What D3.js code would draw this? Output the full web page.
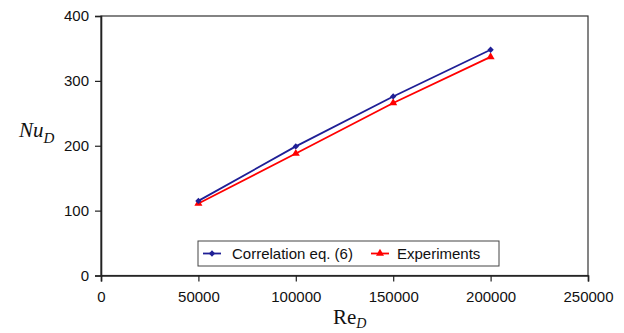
<!DOCTYPE html>
<html lang="en">
  <head>
    <meta charset="utf-8">
    <title>Nu vs Re</title>
    <style>
      body { margin: 0; background: #fff; }
      text { font-family: "Liberation Sans", Arial, sans-serif; }
    </style>
  </head>
  <body>
    <div id="chart"></div>
    <script src="https://cdn.jsdelivr.net/npm/d3@7/dist/d3.min.js"></script>
    <script type="text/javascript">
    (function(d3) {
      'use strict';

      var reynolds = [50000, 100000, 150000, 200000];
      var correlation = [115, 199, 276, 348];
      var experiments = [111, 188, 266, 337];
      var xTicks = [0, 50000, 100000, 150000, 200000, 250000];
      var yTicks = [0, 100, 200, 300, 400];
      var seriesNames = ['Correlation eq. (6)', 'Experiments'];

      var width = 624, height = 333;
      var left = 101, right = 588, top = 16, bottom = 275.5;

      var x = d3.scaleLinear().domain([0, 250000]).range([left, right]);
      var y = d3.scaleLinear().domain([0, 400]).range([bottom, top]);

      var svg = d3.select('#chart').append('svg')
        .attr('width', width)
        .attr('height', height);

      // plot area frame
      svg.append('rect')
        .attr('x', left).attr('y', top)
        .attr('width', right - left).attr('height', bottom - top)
        .attr('fill', 'none').attr('stroke', '#333').attr('stroke-width', 1.2);

      var xAxis = svg.append('g')
        .attr('transform', 'translate(0,' + bottom + ')')
        .call(d3.axisBottom(x).tickValues(xTicks).tickSize(6).tickPadding(10).tickFormat(d3.format('d')));
      var yAxis = svg.append('g')
        .attr('transform', 'translate(' + left + ',0)')
        .call(d3.axisLeft(y).tickValues(yTicks).tickSize(6).tickPadding(6));

      [xAxis, yAxis].forEach(function(a) {
        a.select('.domain').attr('stroke', '#222').attr('stroke-width', 1.6);
        a.selectAll('.tick line').attr('stroke', '#222').attr('stroke-width', 1.2);
        a.selectAll('.tick text')
          .attr('fill', '#111')
          .style('font-size', '15px')
          .style('font-family', '"Liberation Sans", Arial, sans-serif');
      });

      var blue = '#1f1f96', red = '#ff0000';

      var line = d3.line()
        .x(function(d) { return x(d[0]); })
        .y(function(d) { return y(d[1]); });

      var blueData = d3.zip(reynolds, correlation);
      var redData = d3.zip(reynolds, experiments);

      svg.append('path').datum(redData)
        .attr('d', line).attr('fill', 'none')
        .attr('stroke', red).attr('stroke-width', 1.8);
      svg.append('path').datum(blueData)
        .attr('d', line).attr('fill', 'none')
        .attr('stroke', blue).attr('stroke-width', 1.8);

      var diamond = d3.symbol().type(d3.symbolSquare).size(20);
      var triangle = d3.symbol().type(d3.symbolTriangle).size(28);

      svg.selectAll('.pt-red').data(redData).enter().append('path')
        .attr('class', 'pt-red')
        .attr('d', triangle)
        .attr('transform', function(d) { return 'translate(' + x(d[0]) + ',' + y(d[1]) + ')'; })
        .attr('fill', red);
      svg.selectAll('.pt-blue').data(blueData).enter().append('path')
        .attr('class', 'pt-blue')
        .attr('d', diamond)
        .attr('transform', function(d) { return 'translate(' + x(d[0]) + ',' + y(d[1]) + ') rotate(45)'; })
        .attr('fill', blue);

      // legend
      var legend = svg.append('g');
      legend.append('rect')
        .attr('x', 198).attr('y', 241).attr('width', 301).attr('height', 25)
        .attr('fill', '#fff').attr('stroke', '#444').attr('stroke-width', 1);

      var items = [
        { name: seriesNames[0], color: blue, sym: diamond, rot: ' rotate(45)', lx: 203, tx: 232 },
        { name: seriesNames[1], color: red, sym: triangle, rot: '', lx: 371, tx: 397 }
      ];
      items.forEach(function(it) {
        legend.append('line')
          .attr('x1', it.lx).attr('x2', it.lx + 18)
          .attr('y1', 253.5).attr('y2', 253.5)
          .attr('stroke', it.color).attr('stroke-width', 1.8);
        legend.append('path')
          .attr('d', it.sym)
          .attr('transform', 'translate(' + (it.lx + 9) + ',253.5)' + it.rot)
          .attr('fill', it.color);
        legend.append('text')
          .attr('x', it.tx).attr('y', 259)
          .attr('fill', '#111')
          .style('font-size', '15px')
          .text(it.name);
      });

      // axis titles
      var yTitle = svg.append('text')
        .attr('x', 19).attr('y', 137)
        .style('font-family', '"Liberation Serif", "Times New Roman", serif')
        .style('font-style', 'italic')
        .style('font-size', '21px')
        .attr('fill', '#111');
      yTitle.append('tspan').text('Nu');
      yTitle.append('tspan').attr('dy', 6).style('font-size', '15px').text('D');

      var xTitle = svg.append('text')
        .attr('x', 333).attr('y', 324)
        .style('font-family', '"Liberation Serif", "Times New Roman", serif')
        .style('font-size', '21px')
        .attr('fill', '#111');
      xTitle.append('tspan').text('Re');
      xTitle.append('tspan').attr('dy', 4).style('font-size', '14px').style('font-style', 'italic').text('D');

    })(window.d3);
    </script>
  </body>
</html>
